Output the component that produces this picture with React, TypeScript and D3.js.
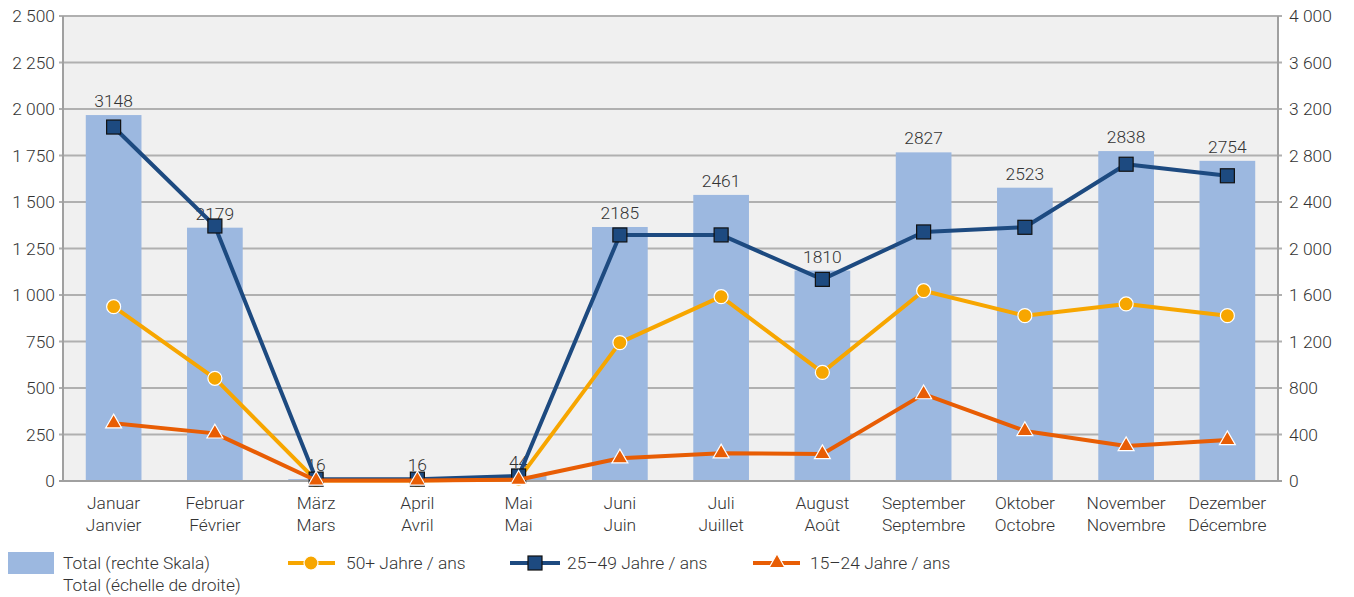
import React from 'react';
import * as d3 from 'd3';

const monthsDe = ['Januar', 'Februar', 'März', 'April', 'Mai', 'Juni', 'Juli', 'August', 'September', 'Oktober', 'November', 'Dezember'];
const monthsFr = ['Janvier', 'Février', 'Mars', 'Avril', 'Mai', 'Juin', 'Juillet', 'Août', 'Septembre', 'Octobre', 'Novembre', 'Décembre'];
const total = [3148, 2179, 16, 16, 44, 2185, 2461, 1810, 2827, 2523, 2838, 2754];
const age50plus = [937, 552, 3, 3, 10, 744, 991, 584, 1023, 889, 952, 889];
const age25to49 = [1903, 1371, 10, 10, 27, 1323, 1323, 1084, 1339, 1364, 1703, 1641];
const age15to24 = [310, 256, 3, 3, 7, 122, 149, 145, 467, 269, 188, 220];
const leftTicks = [0, 250, 500, 750, 1000, 1250, 1500, 1750, 2000, 2250, 2500];
const rightTicks = [0, 400, 800, 1200, 1600, 2000, 2400, 2800, 3200, 3600, 4000];

const W = 1354, H = 597;
const m = { left: 63, right: 1278, top: 16, bottom: 481 };
const font = 'Roboto, sans-serif';
const txt = '#333';
const FS = 17.4;

const fmt = d3.formatLocale({ decimal: ',', thousands: ' ', grouping: [3], currency: ['', ''] }).format(',d');

const COL50 = '#f7a600';
const COL25 = '#1d4a80';
const COL15 = '#e85d04';
const BAR = '#9cb8e0';

const App = () => {
  const idx = d3.range(monthsDe.length);
  const x = d3.scaleBand<number>().domain(idx).range([m.left, m.right]).paddingInner(0).paddingOuter(0);
  const barW = x.bandwidth() * 0.55;
  const cx = (i: number) => (x(i) as number) + x.bandwidth() / 2;
  const yL = d3.scaleLinear().domain([0, 2500]).range([m.bottom, m.top]);
  const yR = d3.scaleLinear().domain([0, 4000]).range([m.bottom, m.top]);
  const line = d3.line<number>().x((_, i) => cx(i)).y(d => yL(d));

  const series = [
    { data: age50plus, color: COL50, marker: 'circle' },
    { data: age25to49, color: COL25, marker: 'square' },
    { data: age15to24, color: COL15, marker: 'triangle' },
  ];

  const tri = d3.symbol().type(d3.symbolTriangle).size(110)() as string;

  const marker = (type: string, color: string, px: number, py: number, key: any) => {
    if (type === 'circle') return <circle key={key} cx={px} cy={py} r={7} fill={color} stroke="#fff" strokeWidth={1.2} />;
    if (type === 'square') return <rect key={key} x={px - 7} y={py - 7} width={14} height={14} fill={color} stroke="#111" strokeWidth={1.2} />;
    return <path key={key} d={tri} transform={`translate(${px},${py})`} fill={color} stroke="#fff" strokeWidth={1.2} />;
  };

  return (
    <svg width={W} height={H} style={{ position: 'absolute', left: 0, top: 0, background: '#fff' }} fontFamily={font}>
      <rect x={m.left} y={m.top} width={m.right - m.left} height={m.bottom - m.top} fill="#f0f0f0" />
      {leftTicks.map(t => (
        <g key={t}>
          <line x1={m.left - 4} x2={m.right + 4} y1={yL(t)} y2={yL(t)} stroke="#b0b0b0" strokeWidth={2} />
          <text x={m.left - 8} y={yL(t)} dy="0.35em" textAnchor="end" fontSize={FS} fill={txt} fontWeight={300}>{fmt(t)}</text>
        </g>
      ))}
      {rightTicks.map(t => (
        <text key={t} x={m.right + 11} y={yR(t)} dy="0.35em" textAnchor="start" fontSize={FS} fill={txt} fontWeight={300}>{fmt(t)}</text>
      ))}
      {total.map((v, i) => (
        <rect key={i} x={cx(i) - barW / 2} y={yR(v)} width={barW} height={m.bottom - yR(v)} fill={BAR} />
      ))}
      <line x1={m.left} x2={m.left} y1={m.top} y2={m.bottom} stroke="#a0a0a0" strokeWidth={2} />
      <line x1={m.right} x2={m.right} y1={m.top} y2={m.bottom} stroke="#a0a0a0" strokeWidth={2} />
      <line x1={m.left - 4} x2={m.right + 4} y1={m.bottom} y2={m.bottom} stroke="#a0a0a0" strokeWidth={2} />
      {total.map((v, i) => (
        <text key={i} x={cx(i)} y={yR(v) - 8} textAnchor="middle" fontSize={FS} fill={txt} fontWeight={300}>{v}</text>
      ))}
      {series.map((s, si) => (
        <g key={si}>
          <path d={line(s.data) as string} fill="none" stroke={s.color} strokeWidth={4} strokeLinejoin="round" />
          {s.data.map((v, i) => marker(s.marker, s.color, cx(i), yL(v), i))}
        </g>
      ))}
      {idx.map(i => (
        <g key={i}>
          <text x={cx(i)} y={509} textAnchor="middle" fontSize={FS} fill={txt} fontWeight={300}>{monthsDe[i]}</text>
          <text x={cx(i)} y={531} textAnchor="middle" fontSize={FS} fill={txt} fontWeight={300}>{monthsFr[i]}</text>
        </g>
      ))}
      <g fontSize={FS} fill={txt} fontWeight={300}>
        <rect x={8} y={552} width={46} height={22} fill={BAR} />
        <text x={63} y={569}>Total (rechte Skala)</text>
        <text x={63} y={591}>Total (échelle de droite)</text>
        <line x1={288} x2={335} y1={563} y2={563} stroke={COL50} strokeWidth={4} />
        {marker('circle', COL50, 311, 563, 'l1')}
        <text x={346} y={569}>50+ Jahre / ans</text>
        <line x1={510} x2={560} y1={563} y2={563} stroke={COL25} strokeWidth={4} />
        {marker('square', COL25, 535, 563, 'l2')}
        <text x={567} y={569}>25–49 Jahre / ans</text>
        <line x1={753} x2={800} y1={563} y2={563} stroke={COL15} strokeWidth={4} />
        {marker('triangle', COL15, 777, 563, 'l3')}
        <text x={810} y={569}>15–24 Jahre / ans</text>
      </g>
    </svg>
  );
};

export default App;
